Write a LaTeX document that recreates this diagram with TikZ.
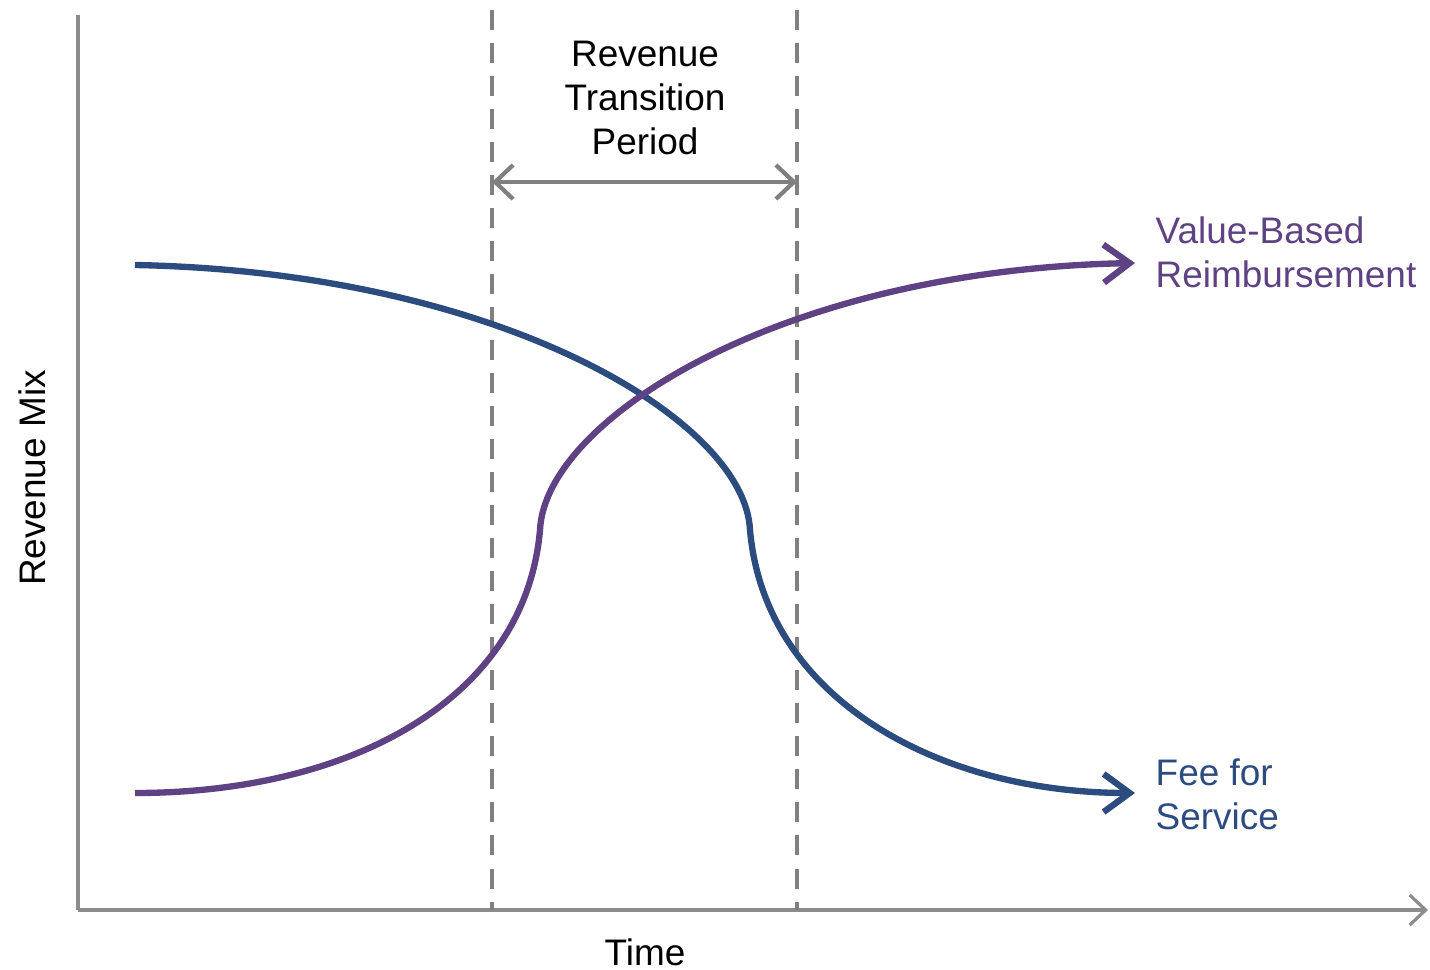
\documentclass[tikz,border=0pt]{standalone}
\usepackage{fontspec}
\setmainfont{Liberation Sans}
\usetikzlibrary{arrows.meta}
\definecolor{feeblue}{HTML}{2C4C80}
\definecolor{valpurple}{HTML}{5E4284}
\definecolor{axisgray}{HTML}{8C8C8C}
\definecolor{dashgray}{HTML}{808080}
\tikzset{
  axisline/.style={draw=axisgray, line width=0.9pt},
  periodline/.style={draw=dashgray, line width=1.2pt, dash pattern=on 0.2cm off 0.13cm},
  mixcurve/.style={line width=1.8pt, -{Straight Barb[length=2.6mm,width=3.8mm]}},
  lbl/.style={font=\fontsize{10.5}{12.5}\selectfont, inner sep=0pt}
}
\begin{document}
\begin{tikzpicture}[x=0.01cm, y=-0.01cm]
                \useasboundingbox (0,0) rectangle (1430,970);
                \coordinate (top) at (78,15);
                \coordinate (orig) at (78,910);
                \coordinate (xend) at (1428,910);
                \coordinate (lt) at (492,10);
                \coordinate (lb) at (492,910);
                \coordinate (rt) at (797,10);
                \coordinate (rb) at (797,910);
                \coordinate (pl) at (492,182);
                \coordinate (pr) at (797,182);
                \coordinate (fstart) at (135,265);
                \coordinate (fmid) at (750,530);
                \coordinate (fend) at (1135,793);
                \coordinate (vstart) at (135,793);
                \coordinate (vmid) at (540,530);
                \coordinate (vend) at (1135,263);
                \node[lbl, align=center] (period) at (645,98) {Revenue\\Transition\\Period};
                \node[lbl, align=left, anchor=west, text=valpurple] (value) at (1155,252) {Value-Based\\Reimbursement};
                \node[lbl, align=left, anchor=west, text=feeblue] (fee) at (1155,794) {Fee for\\Service};
                \node[lbl] (time) at (645,952) {Time};
                \node[lbl, rotate=90] (mix) at (32,478) {Revenue Mix};
                % axes
                \draw[axisline] (top) -- (orig);
                \draw[axisline, -{Straight Barb[length=1.6mm,width=3mm]}] (orig) -- (xend);
                % transition period
                \draw[periodline] (lt) -- (lb);
                \draw[periodline] (rt) -- (rb);
                \draw[draw=dashgray, line width=1.2pt, {Straight Barb[length=1.8mm,width=3.4mm]}-{Straight Barb[length=1.8mm,width=3.4mm]}] (pl) -- (pr);
                % curves
                \draw[mixcurve, feeblue] (fstart) .. controls (500,272) and (745,420) .. (fmid)
                .. controls (765,700) and (940,793) .. (fend);
                \draw[mixcurve, valpurple] (vstart) .. controls (350,793) and (525,700) .. (vmid)
                .. controls (545,420) and (780,270) .. (vend);
            \end{tikzpicture}
\end{document}
